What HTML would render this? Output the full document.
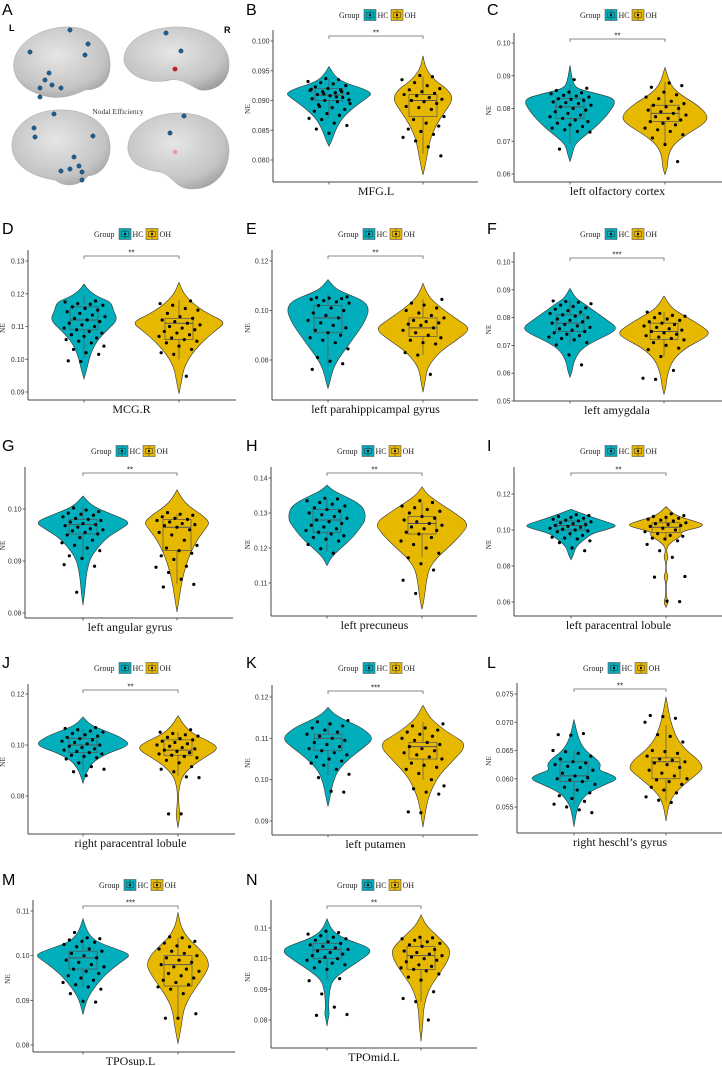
<!DOCTYPE html>
<html><head><meta charset="utf-8">
<style>
html,body{margin:0;padding:0;background:#fff;}
svg{display:block;}
</style></head>
<body>
<svg id="fig" width="722" height="1066" viewBox="0 0 722 1066" xmlns="http://www.w3.org/2000/svg">
<defs>
<radialGradient id="brainG" cx="45%" cy="40%" r="70%">
<stop offset="0" stop-color="#e6e6e6"/><stop offset="0.7" stop-color="#c4c4c4"/><stop offset="1" stop-color="#9a9a9a"/>
</radialGradient>
</defs>
<g id="panelA">
<text x="2" y="15" font-family="Liberation Sans, sans-serif" font-size="16">A</text>
<text x="9" y="31" font-family="Liberation Sans, sans-serif" font-size="9" font-weight="bold">L</text>
<text x="224" y="33" font-family="Liberation Sans, sans-serif" font-size="9" font-weight="bold">R</text>
<path d="M14,70 C10,45 40,26 70,27 C95,28 112,45 110,68 C109,82 100,90 85,90 C75,95 60,100 45,96 C30,92 17,85 14,70Z" fill="url(#brainG)" stroke="#aaa" stroke-width="0.5"/>
<path d="M124,62 C122,40 150,26 180,27 C210,28 230,45 229,65 C229,82 215,92 200,90 C190,86 182,78 170,80 C155,84 130,80 124,62Z" fill="url(#brainG)" stroke="#aaa" stroke-width="0.5"/>
<path d="M12,148 C10,125 35,108 65,110 C92,111 112,128 110,150 C109,165 100,175 88,176 C80,186 65,188 55,180 C40,178 14,170 12,148Z" fill="url(#brainG)" stroke="#aaa" stroke-width="0.5"/>
<path d="M128,150 C126,128 152,112 182,113 C210,114 230,130 229,152 C228,175 212,190 190,189 C175,188 172,175 160,172 C145,170 130,165 128,150Z" fill="url(#brainG)" stroke="#aaa" stroke-width="0.5"/>
<g fill="#1f5f8f" stroke="#0d3350" stroke-width="0.4">
<circle cx="70" cy="30" r="2.2"/><circle cx="88" cy="44" r="2.2"/><circle cx="30" cy="52" r="2.2"/><circle cx="85" cy="55" r="2.2"/>
<circle cx="49" cy="73" r="2.2"/><circle cx="45" cy="80" r="2.2"/><circle cx="52" cy="85" r="2.2"/><circle cx="40" cy="88" r="2.2"/><circle cx="61" cy="88" r="2.2"/><circle cx="40" cy="97" r="2.2"/>
<circle cx="166" cy="33" r="2.2"/><circle cx="181" cy="51" r="2.2"/>
<circle cx="54" cy="114" r="2.2"/><circle cx="34" cy="128" r="2.2"/><circle cx="35" cy="137" r="2.2"/><circle cx="93" cy="136" r="2.2"/>
<circle cx="74" cy="157" r="2.2"/><circle cx="79" cy="166" r="2.2"/><circle cx="70" cy="169" r="2.2"/><circle cx="61" cy="171" r="2.2"/><circle cx="82" cy="172" r="2.2"/><circle cx="82" cy="180" r="2.2"/>
<circle cx="184" cy="116" r="2.2"/><circle cx="170" cy="133" r="2.2"/>
</g>
<circle cx="175" cy="69" r="2.4" fill="#c02020"/><circle cx="175" cy="152" r="2.4" fill="#e0a0a0"/>
<text x="118" y="114" text-anchor="middle" font-family="Liberation Serif, serif" font-size="7.5" fill="#333">Nodal Efficiency</text>
</g>
</svg>
<script>
// ---- data ----
var panelLetters = ["B","C","D","E","F","G","H","I","J","K","L","M","N"];
var regionLabels = ["MFG.L","left olfactory cortex","MCG.R","left parahippicampal gyrus","left amygdala","left angular gyrus","left precuneus","left paracentral lobule","right paracentral lobule","left putamen","right heschl\u2019s gyrus","TPOsup.L","TPOmid.L"];
var sigLabels = ["**","**","**","**","***","**","**","**","**","***","**","***","**"];
var tickValues = [
 [0.080,0.085,0.090,0.095,0.100],[0.06,0.07,0.08,0.09,0.10],[0.09,0.10,0.11,0.12,0.13],[0.08,0.10,0.12],
 [0.05,0.06,0.07,0.08,0.09,0.10],[0.08,0.09,0.10],[0.11,0.12,0.13,0.14],[0.06,0.08,0.10,0.12],
 [0.08,0.10,0.12],[0.09,0.10,0.11,0.12],[0.055,0.060,0.065,0.070,0.075],[0.08,0.09,0.10,0.11],[0.08,0.09,0.10,0.11]];
var tickDecimals = [3,2,2,2,2,2,2,2,2,2,3,2,2];
var hcViolin = [
 [[.0823,0],[.0835,.08],[.085,.15],[.087,.3],[.089,.6],[.0905,.9],[.0912,1],[.092,.8],[.093,.35],[.094,.15],[.0957,0]],
 [[.0638,0],[.066,.05],[.069,.1],[.0715,.3],[.075,.6],[.079,.85],[.0828,1],[.0845,.6],[.086,.15],[.088,.06],[.0932,0]],
 [[.094,0],[.097,.06],[.1,.11],[.103,.18],[.106,.3],[.109,.5],[.112,.72],[.115,.62],[.1175,.58],[.119,.3],[.121,.1],[.123,0]],
 [[.0685,0],[.072,.05],[.076,.1],[.08,.2],[.084,.35],[.088,.5],[.092,.65],[.096,.78],[.1005,.86],[.104,.75],[.107,.35],[.109,.15],[.1125,0]],
 [[.0585,0],[.061,.05],[.064,.08],[.068,.2],[.071,.45],[.0745,.9],[.0765,1],[.079,.8],[.082,.55],[.085,.3],[.087,.12],[.0905,0]],
 [[.0815,0],[.0835,.03],[.0855,.05],[.088,.08],[.0905,.15],[.0925,.3],[.0945,.5],[.0962,.8],[.0975,1],[.099,.6],[.1005,.2],[.1025,0]],
 [[.115,0],[.1175,.1],[.12,.3],[.123,.55],[.126,.72],[.128,.82],[.131,.8],[.133,.65],[.135,.35],[.1365,.12],[.138,0]],
 [[.0835,0],[.086,.05],[.089,.08],[.092,.15],[.095,.3],[.098,.45],[.1005,.8],[.1025,1],[.105,.7],[.108,.35],[.1115,0]],
 [[.085,0],[.088,.05],[.091,.12],[.094,.25],[.097,.55],[.1,1],[.103,.8],[.106,.4],[.108,.15],[.111,0]],
 [[.0935,0],[.096,.05],[.099,.1],[.102,.2],[.105,.45],[.108,.8],[.11,1],[.1125,.75],[.1145,.35],[.116,.12],[.1175,0]],
 [[.0515,0],[.0535,.04],[.0555,.1],[.0575,.3],[.059,.7],[.06,1],[.061,.75],[.0615,.55],[.0625,.6],[.0635,.5],[.065,.25],[.067,.1],[.0705,0]],
 [[.0868,0],[.089,.05],[.091,.12],[.093,.25],[.095,.4],[.097,.6],[.099,.85],[.1002,1],[.1015,.7],[.103,.3],[.105,.1],[.1083,0]],
 [[.078,0],[.08,.02],[.082,.05],[.084,.03],[.087,.04],[.09,.06],[.093,.12],[.096,.35],[.099,.65],[.103,1],[.106,.45],[.108,.2],[.11,.08],[.113,0]]];
var ohViolin = [
 [[.0775,0],[.079,.05],[.081,.1],[.083,.15],[.085,.25],[.087,.4],[.089,.6],[.0905,.7],[.092,.55],[.093,.35],[.094,.2],[.0955,.06],[.0975,0]],
 [[.0598,0],[.062,.05],[.064,.06],[.066,.08],[.069,.18],[.072,.45],[.0755,.85],[.0778,.92],[.081,.7],[.084,.35],[.087,.12],[.0925,0]],
 [[.0895,0],[.093,.05],[.097,.1],[.1,.2],[.103,.35],[.106,.55],[.109,.8],[.1113,1],[.114,.6],[.117,.3],[.12,.1],[.1235,0]],
 [[.067,0],[.072,.05],[.076,.08],[.08,.2],[.084,.4],[.088,.7],[.0925,1],[.096,.75],[.1,.45],[.104,.2],[.107,.08],[.111,0]],
 [[.0523,0],[.055,.04],[.058,.06],[.061,.1],[.065,.2],[.069,.45],[.0725,.85],[.0745,.98],[.077,.8],[.08,.5],[.083,.2],[.0855,.08],[.0878,0]],
 [[.0802,0],[.083,.05],[.086,.1],[.089,.18],[.092,.3],[.0945,.45],[.0965,.62],[.0975,.68],[.099,.5],[.1005,.25],[.102,.1],[.1037,0]],
 [[.1025,0],[.105,.04],[.108,.07],[.111,.1],[.114,.15],[.117,.3],[.12,.55],[.124,.85],[.127,1],[.13,.7],[.133,.35],[.1355,.1],[.1375,0]],
 [[.057,0],[.06,.05],[.0625,.01],[.071,.005],[.074,.05],[.077,.005],[.082,.005],[.085,.05],[.088,.01],[.091,.03],[.094,.15],[.097,.35],[.099,.3],[.1025,.87],[.105,.6],[.108,.2],[.113,0]],
 [[.0675,0],[.071,.03],[.073,.04],[.076,.02],[.08,.01],[.084,.03],[.088,.1],[.092,.3],[.095,.55],[.0985,.85],[.101,.7],[.104,.35],[.107,.15],[.1115,0]],
 [[.0885,0],[.092,.05],[.095,.1],[.098,.2],[.101,.35],[.104,.6],[.1085,.98],[.111,.6],[.113,.35],[.115,.15],[.118,0]],
 [[.0525,0],[.055,.05],[.057,.15],[.059,.4],[.061,.72],[.062,.83],[.0635,.7],[.065,.45],[.067,.25],[.069,.15],[.071,.08],[.0745,0]],
 [[.0803,0],[.0825,.04],[.085,.08],[.088,.12],[.091,.25],[.094,.45],[.0965,.6],[.098,.65],[.1,.58],[.102,.4],[.104,.2],[.1065,.06],[.1097,0]],
 [[.073,0],[.076,.02],[.079,.04],[.083,.05],[.087,.1],[.091,.2],[.095,.38],[.099,.55],[.1025,.62],[.105,.5],[.108,.3],[.111,.1],[.1143,0]]];
var hcBox = [[.087,.09,.0909,.092,.0937],[.069,.077,.0805,.083,.0875],[.1005,.109,.112,.116,.1195],[.078,.091,.097,.102,.107],[.07,.075,.078,.081,.086],[.0905,.0952,.097,.098,.1005],[.119,.1245,.128,.131,.134],[.096,.1,.1025,.105,.108],[.09,.097,.1,.1025,.106],[.101,.107,.11,.111,.114],[.0555,.0595,.0605,.063,.065],[.093,.097,.0995,.101,.104],[.093,.1,.103,.105,.109]];
var ohBox = [[.081,.0873,.09,.091,.094],[.069,.076,.0785,.081,.088],[.1,.106,.111,.1125,.118],[.082,.0895,.093,.097,.1045],[.066,.0722,.075,.078,.082],[.0855,.092,.0965,.098,.099],[.1175,.124,.127,.129,.133],[.096,.0985,.1015,.104,.108],[.088,.096,.098,.102,.105],[.1,.105,.108,.109,.114],[.056,.06,.063,.0637,.0695],[.086,.0932,.098,.1,.104],[.086,.0965,.101,.104,.107]];
var hcPoints = [
 [.0937,.0935,.0932,.093,.0928,.0925,.0923,.092,.0918,.0917,.0915,.0913,.0912,.091,.0908,.0905,.0903,.09,.0898,.0895,.089,.0888,.0885,.0882,.0878,.0875,.087,.0868,.0862,.0858,.0852,.0845,.0915,.0919,.0911,.0906,.0901,.0893],
 [.0888,.0862,.0855,.085,.0848,.0845,.084,.0838,.0835,.083,.0828,.0825,.082,.0818,.0815,.081,.0805,.08,.0795,.079,.0785,.078,.0775,.077,.0765,.076,.0755,.075,.0745,.074,.0735,.073,.0728,.0676],
 [.1178,.1175,.117,.1168,.1165,.116,.1155,.115,.1145,.114,.1135,.113,.1125,.112,.1115,.111,.1105,.11,.1095,.109,.1085,.108,.1075,.107,.1065,.106,.1055,.105,.104,.103,.102,.1015,.0995,.0993],
 [.1055,.1052,.105,.1048,.1045,.104,.1035,.103,.102,.101,.1,.099,.098,.097,.096,.095,.094,.093,.092,.091,.09,.089,.088,.087,.0845,.081,.0795,.0785,.0762],
 [.086,.0858,.0855,.085,.0845,.084,.0835,.083,.0825,.082,.0815,.081,.0805,.08,.0795,.079,.0785,.078,.0775,.077,.0765,.076,.0755,.075,.0745,.074,.0735,.073,.0725,.072,.071,.0702,.0666,.063],
 [.1002,.0998,.0995,.0992,.099,.0988,.0985,.0982,.098,.0978,.0975,.0972,.097,.0968,.0965,.0962,.096,.0958,.0955,.0952,.095,.0945,.094,.0935,.093,.0925,.092,.091,.0905,.089,.0893,.084],
 [.1342,.134,.1335,.133,.1325,.132,.1315,.131,.1305,.13,.1295,.129,.1285,.128,.1275,.127,.1265,.126,.1255,.125,.1245,.124,.1235,.123,.1225,.122,.121,.1198,.1185],
 [.1085,.108,.1075,.107,.1065,.106,.1055,.105,.1045,.104,.1035,.103,.1025,.102,.1015,.101,.1005,.1,.0995,.099,.098,.097,.096,.0955,.095,.094,.093,.09,.0885],
 [.1068,.1065,.106,.1055,.105,.1045,.104,.1035,.103,.1025,.102,.1015,.101,.1005,.1,.0995,.099,.0985,.098,.0975,.097,.0965,.096,.0955,.095,.0945,.093,.0915,.0905,.0895,.088],
 [.1143,.114,.1135,.113,.1125,.112,.1115,.111,.1105,.11,.1095,.109,.1085,.108,.1075,.107,.1065,.106,.1055,.105,.1045,.104,.1035,.1025,.1013,.1005,.0972,.097],
 [.0678,.0677,.068,.065,.0648,.0645,.064,.0635,.063,.0628,.0625,.0622,.062,.0615,.061,.0605,.0602,.06,.0598,.0595,.059,.0585,.058,.0575,.057,.0565,.056,.0555,.055,.0545,.054],
 [.1052,.104,.1038,.1035,.1032,.103,.1025,.102,.1015,.101,.1005,.1,.0995,.099,.0985,.098,.0975,.097,.0965,.096,.0955,.095,.0945,.094,.0935,.093,.0925,.0915,.0898,.0896],
 [.109,.1085,.108,.1075,.107,.1065,.106,.1055,.105,.1045,.104,.1035,.103,.1025,.102,.1015,.101,.1005,.1,.0995,.099,.0985,.098,.097,.0965,.0935,.0928,.0885,.0842,.0818,.0815]];
var ohPoints = [
 [.0942,.094,.0935,.093,.0925,.092,.0918,.0915,.0912,.091,.0908,.0905,.0902,.09,.0898,.0895,.089,.0888,.0885,.0873,.0868,.0862,.0857,.0852,.0848,.0843,.0838,.0832,.0822,.0807],
 [.0878,.087,.0865,.085,.0842,.0835,.083,.0822,.0815,.081,.0805,.08,.0795,.079,.0785,.078,.0775,.077,.0765,.076,.0755,.075,.074,.0735,.073,.072,.071,.069,.0638],
 [.1178,.117,.1165,.1155,.115,.114,.113,.1125,.112,.1115,.111,.1105,.11,.1095,.109,.1085,.108,.1075,.107,.1065,.106,.1055,.105,.104,.103,.102,.1015,.0948],
 [.1045,.103,.1022,.101,.1,.099,.098,.097,.096,.0955,.095,.0945,.094,.093,.092,.091,.09,.089,.088,.087,.0865,.083,.082,.0742],
 [.082,.0815,.0808,.0805,.08,.0795,.079,.0785,.078,.0775,.077,.0765,.076,.0755,.075,.0745,.074,.0735,.073,.0725,.072,.071,.07,.069,.0685,.066,.061,.0582,.0578],
 [.0993,.099,.0988,.0985,.0982,.098,.0978,.0975,.0972,.097,.0968,.0965,.096,.0955,.095,.094,.093,.0925,.092,.0915,.091,.0903,.089,.0888,.0878,.0865,.0855,.085],
 [.1335,.133,.132,.1315,.131,.1305,.13,.129,.1285,.128,.1275,.127,.1265,.126,.1255,.125,.1245,.124,.123,.122,.121,.12,.1185,.1172,.1155,.1137,.1108,.107],
 [.109,.108,.1075,.107,.1065,.106,.1055,.105,.104,.1035,.103,.1025,.102,.101,.1,.099,.098,.097,.0965,.0955,.095,.094,.092,.0885,.0848,.0742,.0738,.0605,.0602],
 [.106,.105,.1045,.104,.1035,.103,.1025,.102,.1015,.101,.1005,.1,.0995,.099,.0985,.098,.0975,.097,.0965,.096,.0955,.095,.094,.093,.0915,.0905,.0895,.0875,.0872,.073,.073],
 [.1135,.113,.1125,.112,.1115,.111,.1105,.11,.1095,.109,.1085,.108,.1075,.107,.1065,.106,.1055,.105,.104,.1035,.103,.1025,.1015,.1,.0985,.0978,.097,.0965,.0922,.092],
 [.0712,.071,.0707,.07,.0678,.0675,.0665,.065,.0648,.0645,.064,.0635,.0633,.063,.0628,.0625,.062,.0615,.061,.0605,.06,.0598,.0595,.059,.0585,.058,.0575,.0568,.0562,.0558],
 [.1042,.104,.1032,.1028,.1022,.102,.1015,.101,.1005,.1,.0995,.099,.0985,.098,.0975,.097,.0965,.096,.0955,.095,.0945,.094,.0935,.093,.0925,.0915,.087,.086,.086],
 [.107,.1068,.1065,.106,.1055,.105,.1045,.104,.103,.1025,.102,.1015,.101,.1005,.1,.0995,.099,.098,.0975,.097,.0965,.096,.095,.094,.093,.0892,.087,.086,.08]];

// ---- layout (pixels) ----
var layouts = [
 {ox:240,oy:0,ax:273,hc:329,oh:423,r:478,b:182,y0:160,y1:41,sig:36,mw:43},
 {ox:481,oy:0,ax:514,hc:570,oh:665,r:722,b:182,y0:174,y1:43,sig:39,mw:47},
 {ox:0,oy:219,ax:28,hc:84,oh:179,r:236,b:400,y0:392,y1:261,sig:256,mw:47},
 {ox:240,oy:219,ax:272,hc:328,oh:423,r:478,b:400,y0:360,y1:261,sig:256,mw:48},
 {ox:481,oy:219,ax:514,hc:570,oh:664,r:722,b:401,y0:401,y1:262,sig:258,mw:47},
 {ox:0,oy:436,ax:25,hc:83,oh:177,r:233,b:618,y0:613,y1:509,sig:473,mw:48},
 {ox:240,oy:436,ax:271,hc:327,oh:422,r:477,b:616,y0:583,y1:478,sig:473,mw:47},
 {ox:481,oy:436,ax:514,hc:571,oh:666,r:722,b:616,y0:602,y1:494,sig:473,mw:47},
 {ox:0,oy:653,ax:28,hc:83,oh:178,r:235,b:834,y0:796,y1:694,sig:690,mw:48},
 {ox:240,oy:653,ax:272,hc:328,oh:423,r:478,b:835,y0:821,y1:697,sig:691,mw:46},
 {ox:481,oy:653,ax:517,hc:574,oh:666,r:722,b:833,y0:807,y1:694,sig:689,mw:45},
 {ox:0,oy:870,ax:33,hc:83,oh:178,r:235,b:1052,y0:1045,y1:911,sig:906,mw:48},
 {ox:240,oy:870,ax:271,hc:327,oh:421,r:477,b:1048,y0:1020,y1:928,sig:906,mw:48}];

var NS="http://www.w3.org/2000/svg";
var svg=document.getElementById('fig');
function mk(tag,attrs,parent){var e=document.createElementNS(NS,tag);for(var k in attrs)e.setAttribute(k,attrs[k]);(parent||svg).appendChild(e);return e;}
var HCc="#00AFBB", OHc="#E7B800";

function violinPath(knots,cx,yScale,mw){
  var pts=knots.map(function(k){return [k[1]*mw,yScale(k[0])];});
  function build(arr,sign,start){
    var d="";
    for(var i=0;i<arr.length;i++){
      var x=cx+sign*arr[i][0],y=arr[i][1];
      if(i==0){d+=(start?"M":" L")+x+","+y;continue;}
      var px=cx+sign*arr[i-1][0],py=arr[i-1][1];
      d+=" Q"+px+","+py+" "+((px+x)/2)+","+((py+y)/2);
      if(i==arr.length-1)d+=" L"+x+","+y;
    }
    return d;
  }
  return build(pts,1,true)+build(pts.slice().reverse(),-1,false)+" Z";
}

layouts.forEach(function(L,p){
  var g=mk('g',{});
  
  
  var t0=tickValues[p][0], t1=tickValues[p][tickValues[p].length-1];
  var yScale=function(v){return L.y0+(v-t0)/(t1-t0)*(L.y1-L.y0);};
  var letter=mk('text',{x:L.ox+(L.ox==0?2:6),y:L.oy+15,'font-family':'Liberation Sans, sans-serif','font-size':16},g);
  letter.textContent=panelLetters[p];
  
  
  var lg=mk('g',{},g);
  
  
  var lx=L.ax+66, ly=L.oy+15;
  var gt=mk('text',{x:lx,y:ly+3,'font-family':'Liberation Serif, serif','font-size':8,fill:'#222'},lg);gt.textContent='Group';
  [[HCc,'HC',lx+25],[OHc,'OH',lx+52]].forEach(function(it){
    var ek=mk('g',{},lg);
    
    
    mk('rect',{x:it[2],y:ly-5.5,width:12,height:11,fill:it[0],stroke:'#555','stroke-width':0.6},ek);
    mk('rect',{x:it[2]+2.5,y:ly-2.5,width:7,height:5,fill:'none',stroke:'#333','stroke-width':0.5},ek);
    mk('line',{x1:it[2]+6,y1:ly-5,x2:it[2]+6,y2:ly+5,stroke:'#333','stroke-width':0.5},ek);
    mk('circle',{cx:it[2]+6,cy:ly,r:1.1,fill:'#000'},ek);
    var tt=mk('text',{x:it[2]+13.5,y:ly+3,'font-family':'Liberation Serif, serif','font-size':8,fill:'#222'},ek);tt.textContent=it[1];
  });
  var yAxis=mk('line',{x1:L.ax,y1:L.sig-6,x2:L.ax,y2:L.b,stroke:'#444','stroke-width':1},g);
  
  
  var xAxis=mk('line',{x1:L.ax,y1:L.b,x2:L.r,y2:L.b,stroke:'#444','stroke-width':1},g);
  
  
  tickValues[p].forEach(function(v){
    var y=yScale(v);
    mk('line',{x1:L.ax-2.5,y1:y,x2:L.ax,y2:y,stroke:'#444','stroke-width':0.8},g);
    var tl=mk('text',{x:L.ax-3.5,y:y+2.5,'text-anchor':'end','font-family':'Liberation Sans, sans-serif','font-size':7,fill:'#333'},g);
    tl.textContent=v.toFixed(tickDecimals[p]);
    
    
  });
  [L.hc,L.oh].forEach(function(x){mk('line',{x1:x,y1:L.b,x2:x,y2:L.b+2.5,stroke:'#444','stroke-width':0.8},g);});
  var yt=mk('text',{x:0,y:0,'text-anchor':'middle','font-family':'Liberation Serif, serif','font-size':7.5,fill:'#333',transform:'translate('+(L.ox+(L.ax-L.ox>30?10:5))+','+((L.sig+L.b)/2)+') rotate(-90)'},g);
  yt.textContent='NE';
  
  
  var xl=mk('text',{x:(L.hc+L.oh)/2,y:L.b+13,'text-anchor':'middle','font-family':'Liberation Serif, serif','font-size':12,fill:'#111'},g);
  xl.textContent=regionLabels[p];
  
  
  var sg=mk('path',{d:'M'+L.hc+','+(L.sig+3)+' V'+L.sig+' H'+L.oh+' V'+(L.sig+3),fill:'none',stroke:'#666','stroke-width':0.8},g);
  
  
  var st=mk('text',{x:(L.hc+L.oh)/2,y:L.sig-0.5,'text-anchor':'middle','font-family':'Liberation Sans, sans-serif','font-size':8,fill:'#222'},g);
  st.textContent=sigLabels[p];
  
  
  [[hcViolin,hcBox,hcPoints,L.hc,HCc,'hc'],[ohViolin,ohBox,ohPoints,L.oh,OHc,'oh']].forEach(function(G){
    var cx=G[3];
    var v=mk('path',{d:violinPath(G[0][p],cx,yScale,L.mw),fill:G[4],stroke:'#333','stroke-width':0.6},g);
    
    
    var bx=G[1][p], bw=14;
    var box=mk('g',{},g);
    
    
    mk('line',{x1:cx,y1:yScale(bx[0]),x2:cx,y2:yScale(bx[1]),stroke:'#555','stroke-width':0.7},box);
    mk('line',{x1:cx,y1:yScale(bx[3]),x2:cx,y2:yScale(bx[4]),stroke:'#555','stroke-width':0.7},box);
    mk('rect',{x:cx-bw,y:yScale(bx[3]),width:2*bw,height:Math.max(0.5,yScale(bx[1])-yScale(bx[3])),fill:'none',stroke:'#555','stroke-width':0.7},box);
    mk('line',{x1:cx-bw,y1:yScale(bx[2]),x2:cx+bw,y2:yScale(bx[2]),stroke:'#555','stroke-width':1},box);
    var pg=mk('g',{},g);
    
    
    G[2][p].forEach(function(val,i){
      var j=(((i*53+17+p*7)%41)/40*2-1)*21;
      var c=mk('circle',{cx:cx+j,cy:yScale(val),r:1.6,fill:'#000'},pg);
      
      
    });
  });
});
</script>
</body></html>
